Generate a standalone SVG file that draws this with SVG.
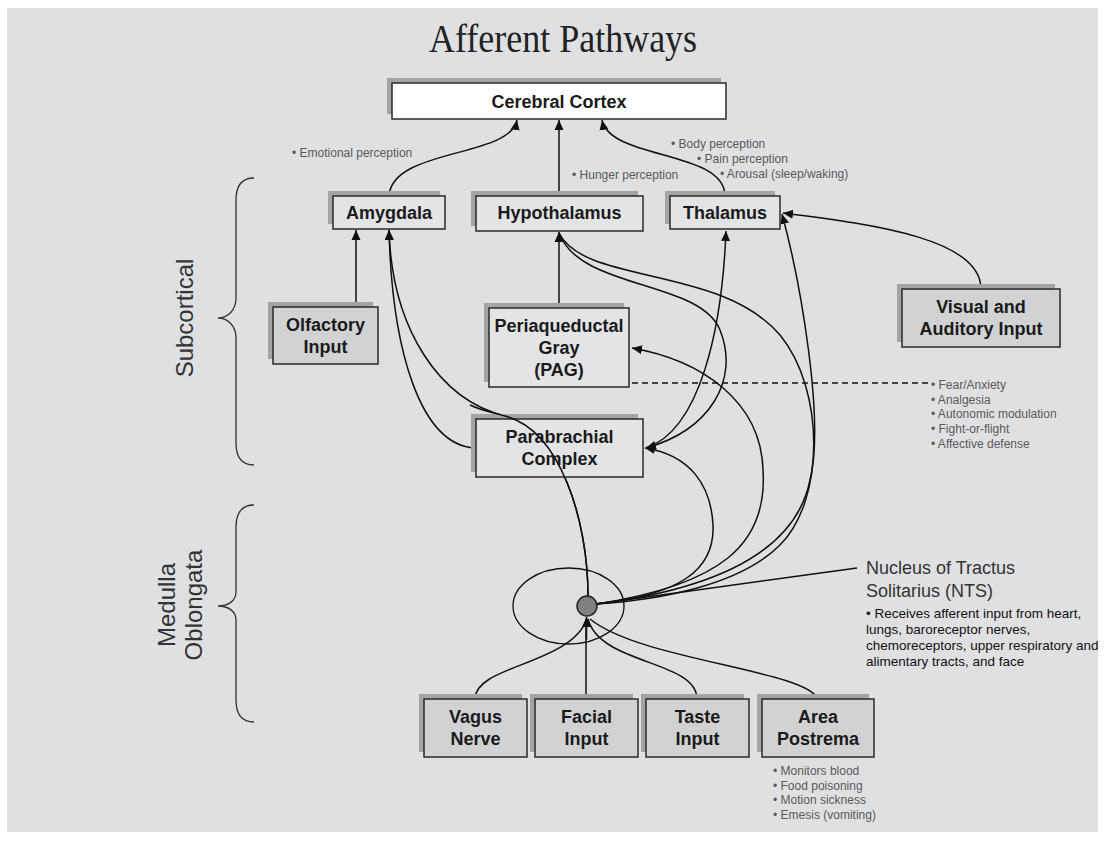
<svg xmlns="http://www.w3.org/2000/svg" width="1105" height="841" viewBox="0 0 1105 841">
<defs>
<marker id="arr" viewBox="0 0 10 10" refX="10" refY="5" markerWidth="10" markerHeight="10" markerUnits="userSpaceOnUse" orient="auto">
<path d="M0,0.5 L10,5 L0,9.5 z" fill="#111"/>
</marker>
</defs>
<style>
.sh{fill:#a3a4a6}
.bx{stroke:#2a2a2a;stroke-width:1.5}
.w{fill:#ffffff}
.lt{fill:#e3e4e6}
.dk{fill:#d1d2d4}
.lbl{font-family:"Liberation Sans",Arial,sans-serif;font-weight:bold;font-size:18px;fill:#1a1a1a;text-anchor:middle}
.note{font-family:"Liberation Sans",Arial,sans-serif;font-size:12px;fill:#5a5a5a}
.side{font-family:"Liberation Sans",Arial,sans-serif;font-size:24px;fill:#333;text-anchor:middle}
.ln{fill:none;stroke:#111;stroke-width:1.5}
.ar{marker-end:url(#arr)}
</style>
<rect x="0" y="0" width="1105" height="841" fill="#ffffff"/>
<rect x="7" y="8" width="1091" height="824" fill="#dfe0e2"/>
<text transform="translate(563,52) scale(0.9,1)" font-family="Liberation Serif,'Times New Roman',serif" font-size="40" fill="#222" text-anchor="middle">Afferent Pathways</text>

<g id="braces" fill="none" stroke="#333" stroke-width="1.3">
<path d="M254,178 C241,178 236,186 236,200 L236,298 C236,310 228,318 218,318 C228,318 236,326 236,338 L236,443 C236,457 241,465 254,465"/>
<path d="M254,505 C241,505 236,513 236,527 L236,592 C236,601 228,606 218,606 C228,606 236,611 236,620 L236,700 C236,714 241,722 254,722"/>
</g>
<text class="side" transform="translate(193,318) rotate(-90)">Subcortical</text>
<text class="side" transform="translate(175,605) rotate(-90)">Medulla</text>
<text class="side" transform="translate(202,605) rotate(-90)">Oblongata</text>

<g id="connectors">
<path class="ln ar" d="M389,196 C392,148 510,158 517,120"/>
<path class="ln ar" d="M559,196 L559,120"/>
<path class="ln ar" d="M725,196 C725,150 610,160 602,120"/>
<path class="ln ar" d="M356,307 L356,230"/>
<path class="ln ar" d="M559,308 L559,232"/>
<path class="ln ar" d="M475,448 C420,445 392,350 389,230"/>
<path class="ln ar" d="M588,596 C588,520 560,430 505,416 C440,400 392,330 389,230"/>
<path class="ln ar" d="M596,604 C720,585 768,545 763,470 C761,400 700,360 632,348"/>
<path class="ln ar" d="M596,604 C680,595 715,570 713,525 C711,485 690,455 645,448"/>
<path class="ln ar" d="M646,448 C700,430 722,330 726,231"/>
<path class="ln ar" d="M559,233 C580,290 700,280 720,330 C740,380 710,430 646,448"/>
<path class="ln" d="M559,233 C585,285 720,265 780,335 C825,390 825,500 780,545 C740,585 660,600 596,604"/>
<path class="ln ar" d="M596,604 C710,590 795,555 810,480 C825,420 800,280 782,214"/>
<path class="ln ar" d="M981,289 C981,240 880,225 783,213"/>
<path class="ln" d="M596,604 L857,568"/>
<path class="ln" d="M475,699 C475,665 570,665 587,619"/>
<path class="ln" d="M586,699 L586,619"/>
<path class="ln" d="M697,699 C697,660 600,665 588,619"/>
<path class="ln" d="M818,699 C805,670 640,660 590,619"/>
<path class="ln ar" d="M586.5,640 L586.5,617"/>
<path fill="none" stroke="#111" stroke-width="1.3" stroke-dasharray="6,4" d="M632,383 L930,383"/>
</g>

<g id="cortex">
<rect class="sh" x="387" y="78" width="334" height="36"/>
<rect class="bx w" x="392" y="83" width="334" height="36"/>
<text class="lbl" x="559" y="108">Cerebral Cortex</text>
</g>
<g id="amygdala">
<rect class="sh" x="328" y="191" width="112" height="33"/>
<rect class="bx lt" x="333" y="196" width="112" height="33"/>
<text class="lbl" x="389" y="219">Amygdala</text>
</g>
<g id="hypothalamus">
<rect class="sh" x="471" y="191" width="167" height="35"/>
<rect class="bx lt" x="476" y="196" width="167" height="35"/>
<text class="lbl" x="559.5" y="219">Hypothalamus</text>
</g>
<g id="thalamus">
<rect class="sh" x="665" y="191" width="110" height="33"/>
<rect class="bx lt" x="670" y="196" width="110" height="33"/>
<text class="lbl" x="725" y="219">Thalamus</text>
</g>
<g id="olfactory">
<rect class="sh" x="268" y="302" width="105" height="57"/>
<rect class="bx dk" x="273" y="307" width="105" height="57"/>
<text class="lbl" x="325.5" y="331">Olfactory</text>
<text class="lbl" x="325.5" y="353">Input</text>
</g>
<g id="pag">
<rect class="sh" x="484" y="303" width="140" height="79"/>
<rect class="bx lt" x="489" y="308" width="140" height="79"/>
<text class="lbl" x="559" y="332">Periaqueductal</text>
<text class="lbl" x="559" y="354">Gray</text>
<text class="lbl" x="559" y="376">(PAG)</text>
</g>
<g id="parabrachial">
<rect class="sh" x="471" y="414" width="167" height="58"/>
<rect class="bx lt" x="476" y="419" width="167" height="58"/>
<text class="lbl" x="559.5" y="443">Parabrachial</text>
<text class="lbl" x="559.5" y="465">Complex</text>
</g>
<g id="connectors-over">
<path class="ln" d="M588,596 C588,520 560,430 505,416 C490,412 480,410 470,405"/>
</g>
<g id="visual">
<rect class="sh" x="897" y="284" width="158" height="58"/>
<rect class="bx dk" x="902" y="289" width="158" height="58"/>
<text class="lbl" x="981" y="313">Visual and</text>
<text class="lbl" x="981" y="335">Auditory Input</text>
</g>
<g id="nts">
<ellipse cx="568.5" cy="606" rx="55.5" ry="38" fill="none" stroke="#111" stroke-width="1.3"/>
<circle cx="587" cy="606" r="10" fill="#808183" stroke="#222" stroke-width="1.5"/>
<text x="866" y="574" font-family="Liberation Sans,Arial,sans-serif" font-size="18" fill="#333">Nucleus of Tractus</text>
<text x="866" y="597" font-family="Liberation Sans,Arial,sans-serif" font-size="18" fill="#333">Solitarius (NTS)</text>
<text font-family="Liberation Sans,Arial,sans-serif" font-size="13.5" fill="#111">
<tspan x="866" y="618">• Receives afferent input from heart,</tspan>
<tspan x="866" y="634">lungs, baroreceptor nerves,</tspan>
<tspan x="866" y="650">chemoreceptors, upper respiratory and</tspan>
<tspan x="866" y="666">alimentary tracts, and face</tspan>
</text>
</g>
<g id="vagus">
<rect class="sh" x="419" y="694" width="103" height="58"/>
<rect class="bx dk" x="424" y="699" width="103" height="58"/>
<text class="lbl" x="475.5" y="723">Vagus</text>
<text class="lbl" x="475.5" y="745">Nerve</text>
</g>
<g id="facial">
<rect class="sh" x="530" y="694" width="103" height="58"/>
<rect class="bx dk" x="535" y="699" width="103" height="58"/>
<text class="lbl" x="586.5" y="723">Facial</text>
<text class="lbl" x="586.5" y="745">Input</text>
</g>
<g id="taste">
<rect class="sh" x="641" y="694" width="103" height="58"/>
<rect class="bx dk" x="646" y="699" width="103" height="58"/>
<text class="lbl" x="697.5" y="723">Taste</text>
<text class="lbl" x="697.5" y="745">Input</text>
</g>
<g id="area-postrema">
<rect class="sh" x="757" y="694" width="112" height="58"/>
<rect class="bx dk" x="762" y="699" width="112" height="58"/>
<text class="lbl" x="818" y="723">Area</text>
<text class="lbl" x="818" y="745">Postrema</text>
</g>

<g id="notes">
<text class="note" x="292" y="157">• Emotional perception</text>
<text class="note" x="572" y="179">• Hunger perception</text>
<text class="note" x="671" y="148">• Body perception</text>
<text class="note" x="697" y="163">• Pain perception</text>
<text class="note" x="720" y="178">• Arousal (sleep/waking)</text>
<text class="note" x="931" y="389">• Fear/Anxiety</text>
<text class="note" x="931" y="404">• Analgesia</text>
<text class="note" x="931" y="418">• Autonomic modulation</text>
<text class="note" x="931" y="433">• Fight-or-flight</text>
<text class="note" x="931" y="448">• Affective defense</text>
<text class="note" x="773" y="775" font-size="11.5">• Monitors blood</text>
<text class="note" x="773" y="790" font-size="11.5">• Food poisoning</text>
<text class="note" x="773" y="804" font-size="11.5">• Motion sickness</text>
<text class="note" x="773" y="819" font-size="11.5">• Emesis (vomiting)</text>
</g>
</svg>
